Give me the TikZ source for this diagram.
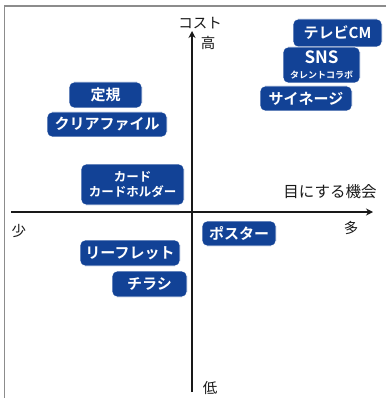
\documentclass[tikz,border=0pt]{standalone}
\usepackage{fontspec}
\setmainfont{Noto Sans CJK JP}[BoldFont={Noto Sans CJK JP Bold}]
\usetikzlibrary{arrows.meta}
\definecolor{boxblue}{RGB}{18,66,150}
\definecolor{framegray}{RGB}{140,140,140}
\definecolor{axisblack}{RGB}{25,25,25}
\tikzset{
  x=1pt,y=-1pt,
  itembox/.style={draw=white,line width=0.8pt,fill=boxblue,rounded corners=5pt,
    text=white,font=\bfseries\fontsize{15}{16}\selectfont,inner sep=0pt,align=center},
  axislabel/.style={text=axisblack,font=\fontsize{14.5}{15}\selectfont,inner sep=0pt},
  axisline/.style={draw=axisblack,line width=1.6pt,-{Stealth[length=7pt,width=7pt]}},
}
\begin{document}
\begin{tikzpicture}
\useasboundingbox (0,0) rectangle (386,398);
% frame
\coordinate (fr1) at (386,6);
\coordinate (fr2) at (4.5,6);
\coordinate (fr3) at (4.5,398);
\draw[framegray,line width=1.4pt] (fr1) -- (fr2) -- (fr3);
% axes
\coordinate (vbot) at (192,392);
\coordinate (vtop) at (192,31);
\coordinate (hleft) at (11,212);
\coordinate (hright) at (373,212);
\draw[axisline] (vbot) -- (vtop);
\draw[axisline] (hleft) -- (hright);
% axis labels
\node[axislabel] (cost) at (200,23) {コスト};
\node[axislabel] (high) at (208,43) {高};
\node[axislabel] (low) at (210,388) {低};
\node[axislabel] (few) at (19,231) {少};
\node[axislabel] (many) at (351,228) {多};
\node[axislabel,font=\fontsize{15.5}{16}\selectfont] (chance) at (330,192) {目にする機会};
% boxes
\node[itembox,minimum width=89pt,minimum height=28pt] (tv) at (337.5,33) {テレビCM};
\node[itembox,minimum width=77pt,minimum height=36pt] (sns) at (321.5,65)
  {\fontsize{17}{16}\selectfont SNS\\[-1pt]{\fontsize{9}{10}\selectfont タレントコラボ}};
\node[itembox,minimum width=92pt,minimum height=25pt] (sign) at (306,98.5) {サイネージ};
\node[itembox,minimum width=73pt,minimum height=26pt] (ruler) at (105.5,95) {定規};
\node[itembox,minimum width=120pt,minimum height=25pt] (file) at (107,124.5) {クリアファイル};
\node[itembox,minimum width=103pt,minimum height=41pt,font=\bfseries\fontsize{12.5}{15}\selectfont] (card) at (132.5,184.5) {カード\\カードホルダー};
\node[itembox,minimum width=74pt,minimum height=25pt] (poster) at (239,233.5) {ポスター};
\node[itembox,minimum width=100pt,minimum height=26pt] (leaf) at (130,253) {リーフレット};
\node[itembox,minimum width=75pt,minimum height=26pt] (flyer) at (149.5,284) {チラシ};
\end{tikzpicture}
\end{document}
